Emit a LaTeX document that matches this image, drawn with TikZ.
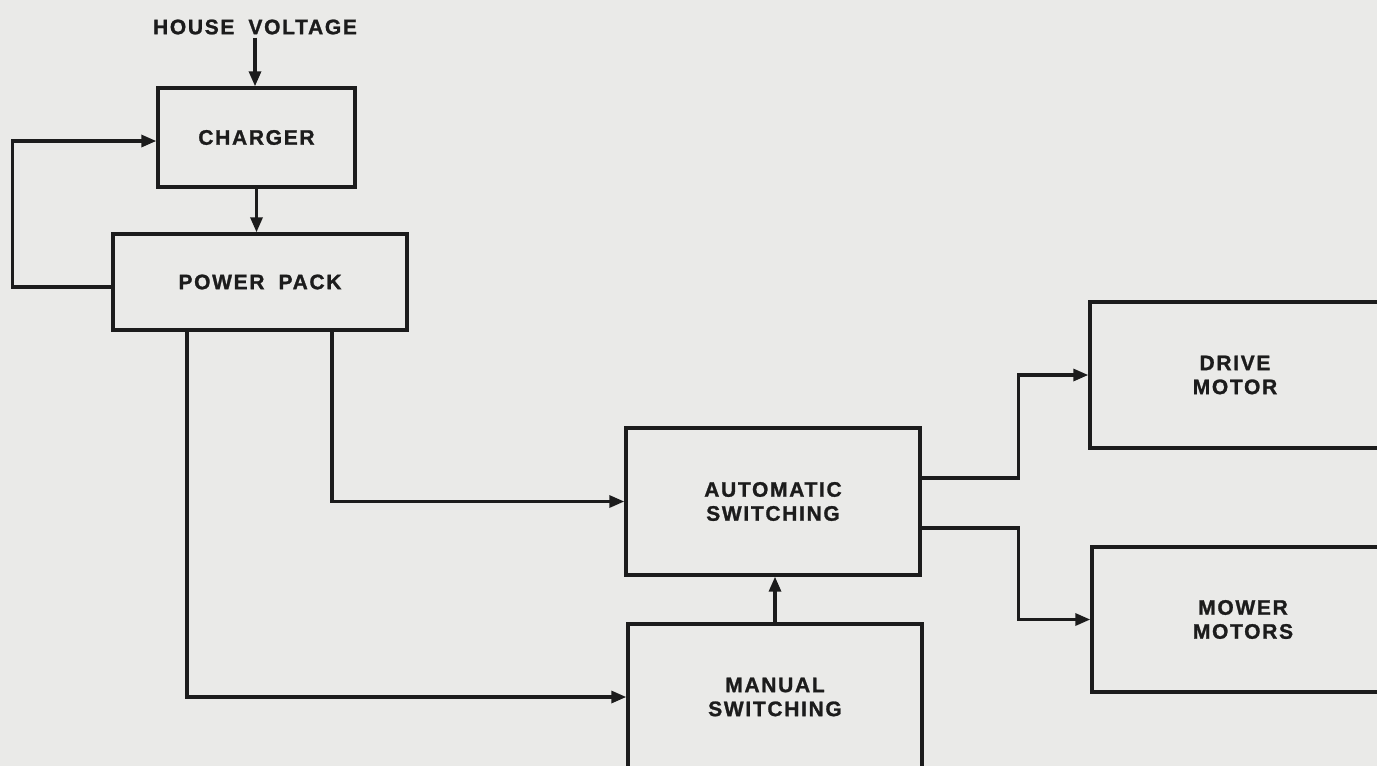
\documentclass[tikz,border=0pt]{standalone}
\usepackage{fontspec}
\setmainfont{Liberation Sans}[LetterSpace=8, BoldFeatures={FakeBold=1.2}]
\usetikzlibrary{arrows.meta}
\definecolor{paper}{RGB}{234,234,232}
\definecolor{ink}{RGB}{28,28,28}
\newcommand{\wsp}{\hspace{14pt}}
\tikzset{
  box/.style={draw=ink, line width=3.4pt, rectangle, inner sep=0pt, align=center,
    font=\fontsize{21}{24}\selectfont\bfseries, text=ink},
  lbl/.style={font=\fontsize{21}{24}\selectfont\bfseries, text=ink, inner sep=3pt},
  arr/.style={draw=ink, line width=3.2pt, -{Triangle[length=15pt,width=12pt]}},
}
\begin{document}
\begin{tikzpicture}[x=1pt,y=-1pt]
\useasboundingbox (0,0) rectangle (1377,766);
\fill[paper] (0,0) rectangle (1377,766);
\clip (0,0) rectangle (1377,766);
\node[lbl] (hv) at (255,27) {HOUSE\wsp VOLTAGE};
\node[box, minimum width=197pt, minimum height=99pt] (charger) at (256.5,137.5) {CHARGER};
\node[box, minimum width=294pt, minimum height=96pt] (power) at (260,282) {POWER\wsp PACK};
\node[box, minimum width=294pt, minimum height=147pt] (auto) at (773,501.5) {AUTOMATIC\\SWITCHING};
\node[box, minimum width=294pt, minimum height=146pt] (manual) at (775,697) {MANUAL\\SWITCHING};
\node[box, minimum width=290pt, minimum height=146pt] (drive) at (1235,375) {DRIVE\\MOTOR};
\node[box, minimum width=302pt, minimum height=145pt] (mower) at (1243,619.5) {MOWER\\MOTORS};
\draw[arr] (hv.south) -- (hv.south |- charger.north);
\draw[arr] (charger.south) -- (charger.south |- power.north);
\draw[arr] ([yshift=-5pt]power.west) -- ++(-99,0) |- ([yshift=-3.5pt]charger.west);
\draw[arr] ([xshift=72pt]power.south) |- (auto.west);
\draw[arr] ([xshift=-73pt]power.south) |- (manual.west);
\draw[arr] (manual.north) -- (manual.north |- auto.south);
\draw[arr] ([yshift=23.5pt]auto.east) -- ++(97,0) |- (drive.west);
\draw[arr] ([yshift=-26.5pt]auto.east) -- ++(97,0) |- (mower.west);
\end{tikzpicture}
\end{document}
